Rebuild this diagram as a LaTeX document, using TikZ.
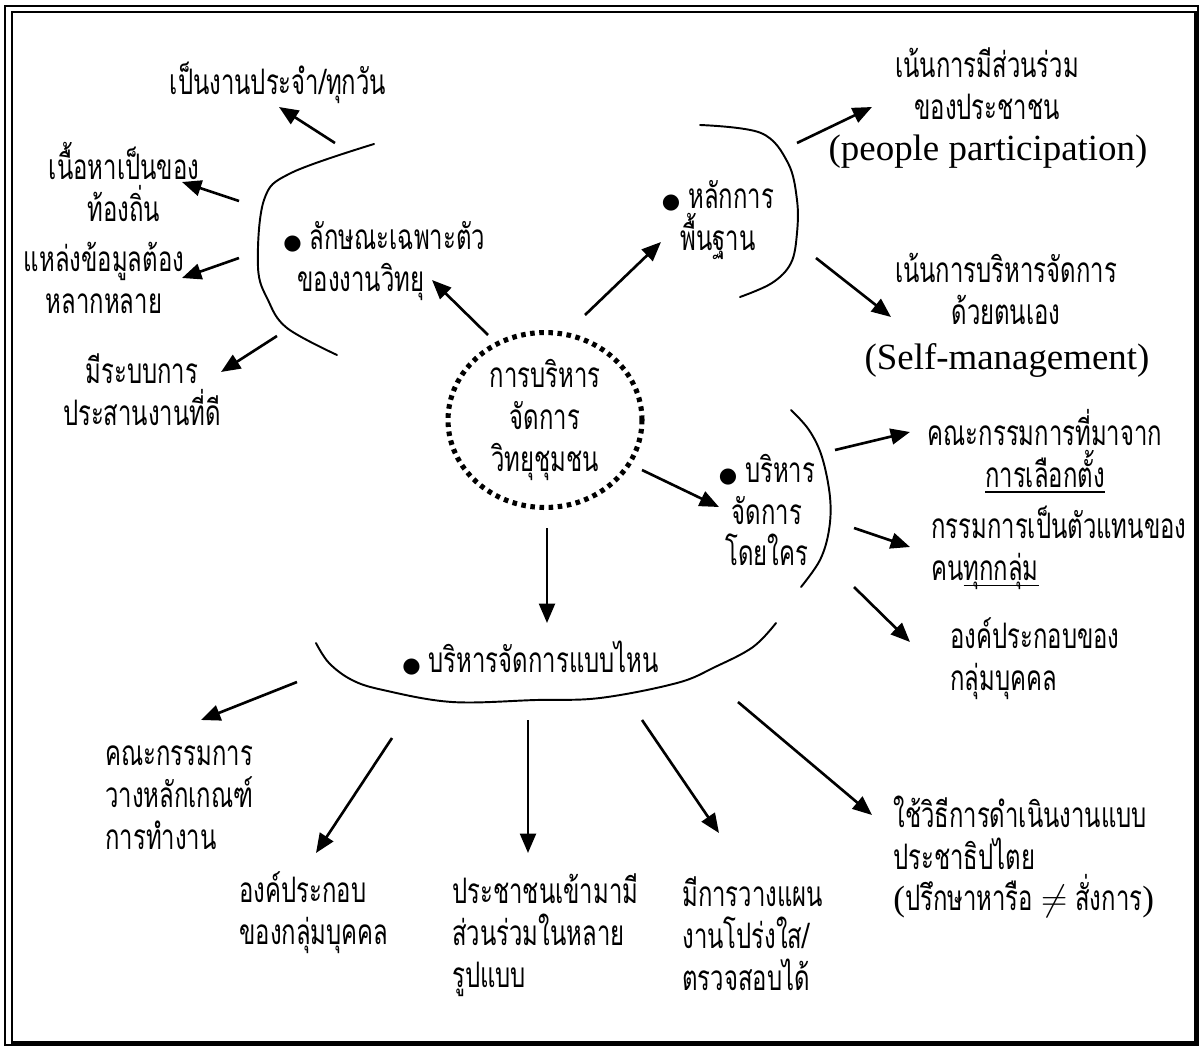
\documentclass[tikz,border=0pt]{standalone}
\usepackage{fontspec}
\setmainfont{Liberation Serif}
\newfontfamily\thaifont[Script=Thai,FakeStretch=0.68]{Loma}
\newfontfamily\symfont{DejaVu Sans}
\usetikzlibrary{arrows.meta,positioning,shapes.geometric}

\newcommand{\dotmark}{{\symfont\fontsize{12}{12}\selectfont ●}}
\newcommand{\thaiul}[1]{\setbox0\hbox{#1}\rlap{\rule[-3pt]{\wd0}{0.7pt}}\box0}

\begin{document}
\begin{tikzpicture}[
  x=0.02cm, y=-0.02cm,
  txt/.style={font=\thaifont\fontsize{20}{23.8}\selectfont, inner sep=0pt, align=center},
  txtl/.style={txt, align=left, anchor=west},
  entxt/.style={font=\rmfamily\fontsize{21}{24}\selectfont, inner sep=0pt},
  hub/.style={ellipse, draw, line width=2.9pt, dash pattern=on 2.6pt off 2.6pt,
    minimum width=3.88cm, minimum height=3.5cm, inner sep=0pt},
  curve/.style={line width=1.1pt, line cap=round},
  arr/.style={-{Triangle[length=11pt,width=9pt]}, line width=1.5pt},
]

  % page and double frame
  \useasboundingbox (0,0) rectangle (1201,1048);
  \draw[line width=0.7pt] (5,6) rectangle (1198,1045);
  \draw[line width=1.7pt] (12,12) rectangle (1195,1042);

  % centre
  \node[hub, txt] (hub) at (545,420) {การบริหาร\\จัดการ\\วิทยุชุมชน};

  % four topics round the centre
  \node[txtl] (traits) at (283,261) {\dotmark\ ลักษณะเฉพาะตัว\\\hspace*{8pt}ของงานวิทยุ};
  \node[txt] (basics) at (718,220) {\dotmark\ หลักการ\\พื้นฐาน};
  \node[txt] (whom) at (767,510) {\dotmark\ บริหาร\\จัดการ\\โดยใคร};
  \node[txtl] (how) at (402,658) {\dotmark\ บริหารจัดการแบบไหน};

  % traits of radio work (left)
  \node[txt] (daily) at (278,83) {เป็นงานประจำ/ทุกวัน};
  \node[txt] (local) at (124,182) {เนื้อหาเป็นของ\\ท้องถิ่น};
  \node[txt] (sources) at (104,278) {แหล่งข้อมูลต้อง\\หลากหลาย};
  \node[txt] (coord) at (142,390) {มีระบบการ\\ประสานงานที่ดี};

  % basic principles (top right)
  \node[txt] (partTh) at (987,84) {เน้นการมีส่วนร่วม\\ของประชาชน};
  \node[entxt] (partEn) at (988,152) {(people participation)};
  \node[txt] (selfTh) at (1006,289) {เน้นการบริหารจัดการ\\ด้วยตนเอง};
  \node[entxt] (selfEn) at (1007,360) {(Self-management)};

  % managed by whom (right)
  \node[txt] (elected) at (1045,451) {คณะกรรมการที่มาจาก\\\thaiul{การเลือกตั้ง}};
  \node[txtl] (represent) at (931,548) {กรรมการเป็นตัวแทนของ\\คน\thaiul{ทุกกลุ่ม}};
  \node[txtl] (members) at (950,659) {องค์ประกอบของ\\กลุ่มบุคคล};

  % managed how (bottom)
  \node[txtl] (committee) at (105,798) {คณะกรรมการ\\วางหลักเกณฑ์\\การทำงาน};
  \node[txtl] (groups) at (239,913) {องค์ประกอบ\\ของกลุ่มบุคคล};
  \node[txtl] (people) at (452,935) {ประชาชนเข้ามามี\\ส่วนร่วมในหลาย\\รูปแบบ};
  \node[txtl] (plan) at (682,934) {มีการวางแผน\\งานโปร่งใส/\\ตรวจสอบได้};
  \node[txtl] (demo) at (893,857) {ใช้วิธีการดำเนินงานแบบ\\ประชาธิปไตย\\{\rmfamily(}ปรึกษาหารือ $\neq$ สั่งการ{\rmfamily)}};

  % brackets
  \draw[curve] plot[smooth, tension=0.6] coordinates {(374,144) (291,173) (264,200) (258,267) (268,300) (287,328) (337,355)};
  \draw[curve] plot[smooth, tension=0.6] coordinates {(700,125) (761,133) (788,163) (797,200) (797,233) (791,263) (772,283) (740,297)};
  \draw[curve] plot[smooth, tension=0.6] coordinates {(791,410) (809,430) (822,457) (830,497) (829,530) (820,560) (801,587)};
  \draw[curve] plot[smooth, tension=0.6] coordinates {(316,643) (329,663) (352,680) (383,690) (452,702) (536,700) (600,698) (677,683) (715,667) (753,647) (776,623)};

  % arrow ends
  \coordinate (hubA) at (488,335); \coordinate (traitsIn) at (432,280);
  \coordinate (hubB) at (585,315); \coordinate (basicsIn) at (661,242);
  \coordinate (hubC) at (642,470); \coordinate (whomIn) at (719,507);
  \coordinate (hubD) at (547,528); \coordinate (howIn) at (547,623);

  \coordinate (tr1) at (335,143); \coordinate (dailyIn) at (279,107);
  \coordinate (tr2) at (239,201); \coordinate (localIn) at (182,182);
  \coordinate (tr3) at (239,258); \coordinate (sourcesIn) at (182,278);
  \coordinate (tr4) at (277,336); \coordinate (coordIn) at (221,372);

  \coordinate (ba1) at (797,143); \coordinate (partIn) at (872,107);
  \coordinate (ba2) at (816,258); \coordinate (selfIn) at (891,317);

  \coordinate (wh1) at (835,450); \coordinate (electedIn) at (910,432);
  \coordinate (wh2) at (854,528); \coordinate (representIn) at (910,547);
  \coordinate (wh3) at (854,587); \coordinate (membersIn) at (910,642);

  \coordinate (ho1) at (297,682); \coordinate (committeeIn) at (201,720);
  \coordinate (ho2) at (392,738); \coordinate (groupsIn) at (316,853);
  \coordinate (ho3) at (528,720); \coordinate (peopleIn) at (528,853);
  \coordinate (ho4) at (642,720); \coordinate (planIn) at (719,833);
  \coordinate (ho5) at (738,702); \coordinate (demoIn) at (872,815);

  % arrows
  \draw[arr] (hubA) -- (traitsIn);
  \draw[arr] (hubB) -- (basicsIn);
  \draw[arr] (hubC) -- (whomIn);
  \draw[arr] (hubD) -- (howIn);

  \draw[arr] (tr1) -- (dailyIn);
  \draw[arr] (tr2) -- (localIn);
  \draw[arr] (tr3) -- (sourcesIn);
  \draw[arr] (tr4) -- (coordIn);

  \draw[arr] (ba1) -- (partIn);
  \draw[arr] (ba2) -- (selfIn);

  \draw[arr] (wh1) -- (electedIn);
  \draw[arr] (wh2) -- (representIn);
  \draw[arr] (wh3) -- (membersIn);

  \draw[arr] (ho1) -- (committeeIn);
  \draw[arr] (ho2) -- (groupsIn);
  \draw[arr] (ho3) -- (peopleIn);
  \draw[arr] (ho4) -- (planIn);
  \draw[arr] (ho5) -- (demoIn);

\end{tikzpicture}
\end{document}
